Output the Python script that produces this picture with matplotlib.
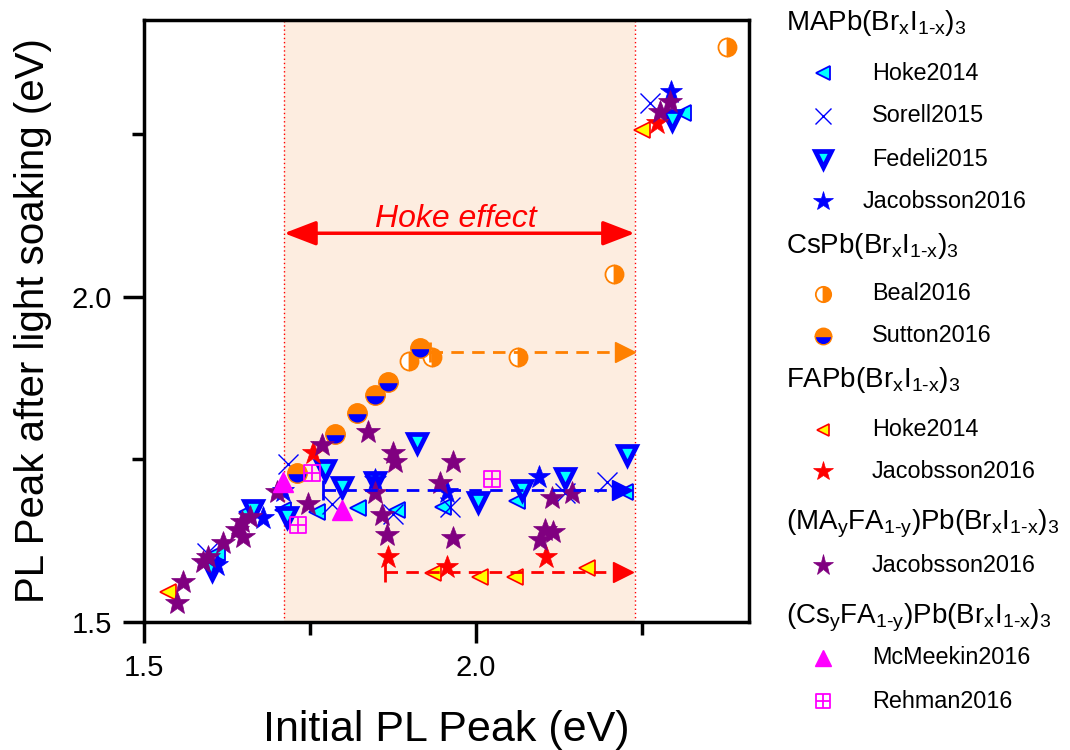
import matplotlib
matplotlib.use("Agg")
import matplotlib.pyplot as plt
from matplotlib.lines import Line2D
from matplotlib.path import Path

plt.rcParams["font.family"] = ["Liberation Sans", "DejaVu Sans"]
plt.rcParams["mathtext.fontset"] = "custom"
plt.rcParams["mathtext.rm"] = "Liberation Sans"
plt.rcParams["mathtext.it"] = "Liberation Sans:italic"
plt.rcParams["mathtext.default"] = "regular"

# ---- data: initial PL peak (x) vs. PL peak after light soaking (y), eV ----
ma_hoke_x = [1.610, 1.655, 1.709, 1.761, 1.822, 1.881, 1.950, 2.062, 2.225, 2.312]
ma_hoke_y = [1.606, 1.669, 1.672, 1.669, 1.675, 1.672, 1.677, 1.686, 1.700, 2.283]

ma_sorell_x = [1.595, 1.717, 1.783, 1.875, 1.961, 2.134, 2.197, 2.262]
ma_sorell_y = [1.606, 1.743, 1.681, 1.666, 1.677, 1.698, 1.715, 2.298]

ma_fedeli_x = [1.602, 1.664, 1.715, 1.773, 1.798, 1.848, 1.911, 2.003, 2.069, 2.134, 2.227, 2.295]
ma_fedeli_y = [1.580, 1.672, 1.662, 1.734, 1.708, 1.715, 1.775, 1.685, 1.703, 1.721, 1.757, 2.272]

ma_jac_x = [1.610, 1.679, 1.709, 1.848, 1.956, 2.095, 2.294]
ma_jac_y = [1.588, 1.660, 1.702, 1.718, 1.700, 1.723, 2.315]

cs_beal_x = [1.899, 1.934, 2.063, 2.207, 2.378]
cs_beal_y = [1.902, 1.908, 1.908, 2.035, 2.385]

cs_sutton_x = [1.730, 1.788, 1.821, 1.848, 1.867, 1.916]
cs_sutton_y = [1.729, 1.789, 1.822, 1.849, 1.869, 1.922]

fa_hoke_x = [1.536, 1.935, 2.006, 2.059, 2.167, 2.250]
fa_hoke_y = [1.546, 1.575, 1.569, 1.569, 1.583, 2.257]

fa_jac_x = [1.755, 1.867, 1.956, 2.105, 2.273]
fa_jac_y = [1.760, 1.600, 1.585, 1.600, 2.268]

mafa_jac_x = [1.550, 1.559, 1.589, 1.596, 1.619, 1.640, 1.649, 1.648, 1.660, 1.700,
              1.747, 1.768, 1.837, 1.875, 1.878, 1.848, 1.858, 1.866, 1.946, 1.965,
              1.965, 2.114, 2.145, 2.104, 2.096, 2.116, 2.292, 2.277]
mafa_jac_y = [1.529, 1.562, 1.592, 1.600, 1.622, 1.642, 1.631, 1.654, 1.662, 1.700,
              1.682, 1.772, 1.792, 1.760, 1.746, 1.698, 1.665, 1.634, 1.714, 1.746,
              1.629, 1.691, 1.698, 1.641, 1.626, 1.638, 2.300, 2.285]

csfa_mcmeekin_x = [1.709, 1.798]
csfa_mcmeekin_y = [1.715, 1.672]

csfa_rehman_x = [1.753, 1.732, 2.024]
csfa_rehman_y = [1.729, 1.649, 1.720]

# guide lines (start, end) at constant y
guide_orange_x = [1.930, 2.225]
guide_orange_y = [1.915, 1.915]
guide_blue_x = [1.770, 2.220]
guide_blue_y = [1.703, 1.703]
guide_red_x = [1.863, 2.222]
guide_red_y = [1.577, 1.577]

hoke_window = [1.711, 2.239]
hoke_arrow_y = 2.098

# ---- marker styles ----
PURPLE = "#800080"
box_plus = Path(
    [(-1, -1), (1, -1), (1, 1), (-1, 1), (-1, -1), (0, -1), (0, 1), (-1, 0), (1, 0)],
    [Path.MOVETO, Path.LINETO, Path.LINETO, Path.LINETO, Path.CLOSEPOLY,
     Path.MOVETO, Path.LINETO, Path.MOVETO, Path.LINETO],
)

styles = {
    "ma_hoke": dict(marker="<", ms=12, mfc="cyan", mec="blue", mew=1.3),
    "ma_sorell": dict(marker="x", ms=14, mec="blue", mew=1.0),
    "ma_fedeli": dict(marker="v", ms=13.5, mfc="cyan", mec="blue", mew=3.4),
    "ma_jac": dict(marker="*", ms=17, mfc="blue", mec="blue", mew=0.5),
    "cs_beal": dict(marker="o", ms=13, fillstyle="right", mfc="#FF8000",
                    mfcalt="white", mec="#FF8000", mew=1.3),
    "cs_sutton": dict(marker="o", ms=14, fillstyle="top", mfc="#FF8000",
                      mfcalt="blue", mec="#FF8000", mew=1.0),
    "fa_hoke": dict(marker="<", ms=11, mfc="yellow", mec="red", mew=1.2),
    "fa_jac": dict(marker="*", ms=17, mfc="red", mec="red", mew=0.5),
    "mafa_jac": dict(marker="*", ms=18, mfc=PURPLE, mec=PURPLE, mew=0.5),
    "csfa_mcmeekin": dict(marker="^", ms=14, mfc="magenta", mec="magenta", mew=1.0),
    "csfa_rehman": dict(marker=box_plus, ms=12, mfc="none", mec="magenta", mew=1.3),
}

series = [
    ("ma_hoke", ma_hoke_x, ma_hoke_y),
    ("ma_sorell", ma_sorell_x, ma_sorell_y),
    ("ma_fedeli", ma_fedeli_x, ma_fedeli_y),
    ("ma_jac", ma_jac_x, ma_jac_y),
    ("cs_beal", cs_beal_x, cs_beal_y),
    ("cs_sutton", cs_sutton_x, cs_sutton_y),
    ("fa_hoke", fa_hoke_x, fa_hoke_y),
    ("fa_jac", fa_jac_x, fa_jac_y),
    ("mafa_jac", mafa_jac_x, mafa_jac_y),
    ("csfa_mcmeekin", csfa_mcmeekin_x, csfa_mcmeekin_y),
    ("csfa_rehman", csfa_rehman_x, csfa_rehman_y),
]

fig = plt.figure(figsize=(10.7, 7.5), dpi=100)
ax = fig.add_axes([144 / 1070, 1 - 622 / 750, (749 - 144) / 1070, (622 - 20) / 750])
ax.set_xlim(1.5, 2.411)
ax.set_ylim(1.5, 2.426)

# Hoke effect window
ax.axvspan(hoke_window[0], hoke_window[1], color="#FDEDE0", zorder=0, lw=0)
for xv in hoke_window:
    ax.axvline(xv, color="red", ls=(0, (1, 2)), lw=1.0, zorder=1)
ax.annotate("", xy=(hoke_window[1], hoke_arrow_y), xytext=(hoke_window[0], hoke_arrow_y),
            arrowprops=dict(arrowstyle="<|-|>,head_length=1.3,head_width=0.5",
                            mutation_scale=15, color="red", lw=2.5,
                            shrinkA=0, shrinkB=0), zorder=3)
ax.text(sum(hoke_window) / 2 - 0.005, hoke_arrow_y + 0.010, "Hoke effect", color="red",
        style="italic", fontsize=23, ha="center", va="baseline")

for key, xs, ys in series:
    ax.plot(xs, ys, ls="none", zorder=4, **styles[key])

# dashed guides: tick at the start, arrow head at the end
for gx, gy, c in [(guide_orange_x, guide_orange_y, "#FF8000"),
                  (guide_blue_x, guide_blue_y, "blue"),
                  (guide_red_x, guide_red_y, "red")]:
    ax.plot(gx, gy, color=c, lw=2.0, dashes=(4.5, 3), zorder=5)
    ax.plot(gx[0], gy[0], marker="|", ms=14, mew=2.0, color=c, zorder=5)
    ax.plot(gx[-1], gy[-1], marker=">", ms=14, color=c, mec=c, zorder=6)

ax.set_xticks([1.5, 2.0])
ax.set_xticks([1.75, 2.25], minor=True)
ax.set_yticks([1.5, 2.0])
ax.set_yticks([1.75, 2.25], minor=True)
ax.xaxis.set_major_formatter(plt.FormatStrFormatter("%.1f"))
ax.yaxis.set_major_formatter(plt.FormatStrFormatter("%.1f"))
ax.tick_params(which="major", direction="out", length=15, width=2.5, labelsize=21, pad=8)
ax.tick_params(which="minor", direction="out", length=9, width=2.5)
for sp in ax.spines.values():
    sp.set_linewidth(2.5)

ax.set_xlabel("Initial PL Peak (eV)", fontsize=31, labelpad=20)
ax.set_ylabel("PL Peak after light soaking (eV)", fontsize=29, labelpad=14)

# ---- legend on the right, laid out in figure pixels ----
def fpos(px, py):
    return px / 1070, 1 - py / 750


SUB_X = r"$_{1\text{-}x}$"
SUB_Y = r"$_{1\text{-}y}$"
legend_rows = [
    ("head", r"MAPb(Br$_x$I" + SUB_X + r")$_3$", 30),
    ("ma_hoke", "Hoke2014", 73),
    ("ma_sorell", "Sorell2015", 116),
    ("ma_fedeli", "Fedeli2015", 159),
    ("ma_jac", "Jacobsson2016", 201),
    ("head", r"CsPb(Br$_x$I" + SUB_X + r")$_3$", 253),
    ("cs_beal", "Beal2016", 294),
    ("cs_sutton", "Sutton2016", 336),
    ("head", r"FAPb(Br$_x$I" + SUB_X + r")$_3$", 387),
    ("fa_hoke", "Hoke2014", 430),
    ("fa_jac", "Jacobsson2016", 471),
    ("head", r"(MA$_y$FA" + SUB_Y + r")Pb(Br$_x$I" + SUB_X + r")$_3$", 530),
    ("mafa_jac", "Jacobsson2016", 565),
    ("head", r"(Cs$_y$FA" + SUB_Y + r")Pb(Br$_x$I" + SUB_X + r")$_3$", 623),
    ("csfa_mcmeekin", "McMeekin2016", 658),
    ("csfa_rehman", "Rehman2016", 701),
]

for key, label, py in legend_rows:
    if key == "head":
        fig.text(*fpos(786, py), label, fontsize=20, ha="left", va="baseline")
        continue
    st = dict(styles[key])
    st["ms"] = st["ms"] * 0.85
    fx, fy = fpos(823, py)
    fig.add_artist(Line2D([fx], [fy], transform=fig.transFigure, ls="none", **st))
    lx = 863 if label == "Jacobsson2016" and key == "ma_jac" else 872
    fig.text(*fpos(lx, py), label, fontsize=16.8, ha="left", va="center")

fig.savefig("out.png", dpi=100)
